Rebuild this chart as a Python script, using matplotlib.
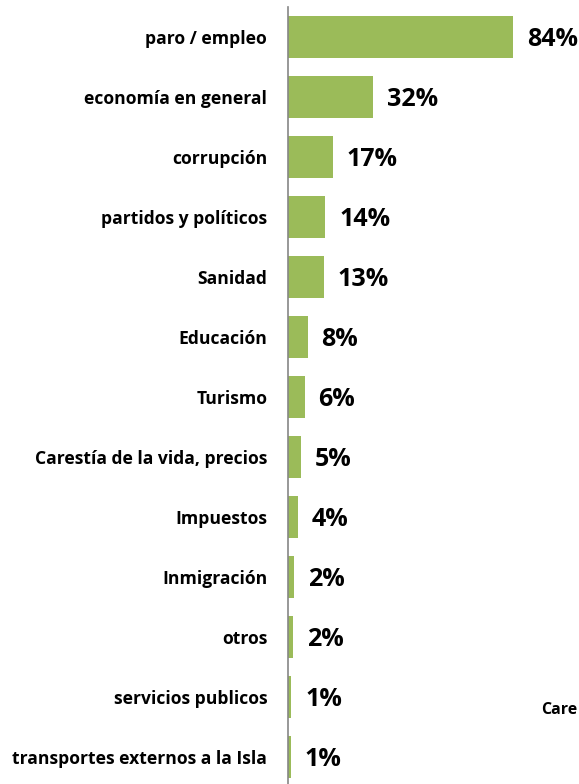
import matplotlib.pyplot as plt

# Data
categories = [
    'paro / empleo', 'economía en general', 'corrupción', 'partidos y políticos',
    'Sanidad', 'Educación', 'Turismo', 'Carestía de la vida, precios',
    'Impuestos', 'Inmigración', 'otros', 'servicios publicos',
    'transportes externos a la Isla'
]
values = [84, 31.8, 16.8, 13.9, 13.3, 7.3, 6.2, 4.8, 3.7, 2.2, 1.8, 1.3, 1.05]
value_labels = ['84%', '32%', '17%', '14%', '13%', '8%', '6%', '5%', '4%',
                '2%', '2%', '1%', '1%']

plt.rcParams['font.family'] = ['Open Sans', 'DejaVu Sans']

fig = plt.figure(figsize=(5.79, 7.84), dpi=100)
ax = fig.add_axes([288 / 579, 0, 291 / 579, 777 / 784])

y = list(range(len(categories)))
ax.barh(y, values, height=0.7, color='#9BBB59', zorder=1)

for yi, v, lab in zip(y, values, value_labels):
    ax.annotate(lab, (v, yi), xytext=(10, -1.5), textcoords='offset points',
                va='center', ha='left', fontsize=18, fontweight='bold')

ax.set_xlim(0, 108.4)
ax.set_ylim(12.45, -0.5)
ax.set_yticks(y)
ax.set_yticklabels(categories, fontsize=12.6, fontweight='bold')
ax.tick_params(axis='y', length=0, pad=15)
ax.set_xticks([])
for s in ['top', 'right', 'bottom']:
    ax.spines[s].set_visible(False)
ax.spines['left'].set_color('#868686')
ax.spines['left'].set_linewidth(1.2)

# cropped text at the right edge of the original
fig.text(541 / 579, 1 - 710 / 784, 'Care', fontsize=11.5, fontweight='bold',
         va='center', ha='left')

fig.savefig('out.png', dpi=100)
